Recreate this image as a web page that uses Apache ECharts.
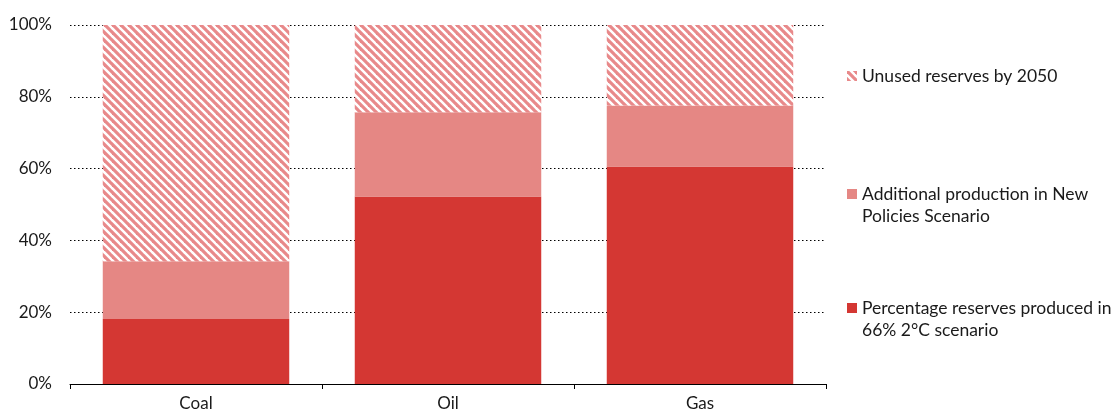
<!DOCTYPE html>
<html>
<head>
<meta charset="utf-8">
<script src="https://cdn.jsdelivr.net/npm/echarts@6/dist/echarts.min.js"></script>
<style>html,body{margin:0;padding:0;background:#fff}#c{width:1119px;height:412px}</style>
</head>
<body>
<div id="c"></div>
<script>
const categories = ['Coal', 'Oil', 'Gas'];
const producedIn2C = [18.1, 52.2, 60.6];
const additionalNPS = [16.1, 23.5, 17.0];
const unused2050 = [65.8, 24.3, 22.4];
const yTicks = [0, 20, 40, 60, 80, 100];
const seriesNames = [
  'Percentage reserves produced in 66% 2°C scenario',
  'Additional production in New Policies Scenario',
  'Unused reserves by 2050'
];
const legendLabels = {};
legendLabels[seriesNames[0]] = 'Percentage reserves produced in\n66% 2°C scenario';
legendLabels[seriesNames[1]] = 'Additional production in New\nPolicies Scenario';
legendLabels[seriesNames[2]] = 'Unused reserves by 2050';

function makeHatch() {
  const s = 8;
  const c = document.createElement('canvas');
  c.width = s; c.height = s;
  const g = c.getContext('2d');
  g.fillStyle = '#ffffff';
  g.fillRect(0, 0, s, s);
  g.strokeStyle = '#e8898a';
  g.lineWidth = 3.2;
  g.lineCap = 'square';
  for (let k = -1; k <= 1; k++) {
    g.beginPath();
    g.moveTo(k * s, 0);
    g.lineTo(k * s + s, s);
    g.stroke();
  }
  return c;
}
const hatch = { image: makeHatch(), repeat: 'repeat' };

const font = 'Lato, "Open Sans", sans-serif';
const chart = echarts.init(document.getElementById('c'), null, { renderer: 'canvas' });
function legendFor(name, top, twoLine, icon) {
  return {
    show: true,
    orient: 'vertical',
    left: 842,
    top: top,
    data: [{ name: name, icon: 'rect', itemStyle: icon }],
    itemWidth: 10,
    itemHeight: 10,
    itemGap: 4,
    selectedMode: false,
    formatter: function (n) {
      // blank first line keeps the swatch level with the first text line
      return twoLine ? '\n' + legendLabels[n] : legendLabels[n];
    },
    textStyle: { fontFamily: font, fontSize: 17.5, color: '#1a1a1a', lineHeight: 22 }
  };
}
chart.setOption({
  animation: false,
  grid: { left: 70, right: 293, top: 25, bottom: 27, containLabel: false },
  legend: [
    legendFor(seriesNames[2], 60, false, { color: hatch }),
    legendFor(seriesNames[1], 156, true, { color: '#e58784' }),
    legendFor(seriesNames[0], 270, true, { color: '#d43733' })
  ],
  xAxis: {
    type: 'category',
    data: categories,
    axisLine: { lineStyle: { color: '#000', width: 1 } },
    axisTick: { show: true, length: 5, lineStyle: { color: '#000' } },
    axisLabel: { fontFamily: font, fontSize: 17, color: '#1a1a1a', margin: 11 }
  },
  yAxis: {
    type: 'value',
    min: 0, max: 100, interval: 20,
    axisLine: { show: false },
    axisTick: { show: false },
    axisLabel: {
      fontFamily: font, fontSize: 17, color: '#1a1a1a', margin: 18,
      formatter: function (v) { return yTicks.indexOf(v) >= 0 ? v + '%' : ''; }
    },
    splitLine: { lineStyle: { color: '#000', type: [1.5, 2.5], width: 1 } }
  },
  series: [
    { name: seriesNames[0], type: 'bar', stack: 't', data: producedIn2C, barWidth: '74%', itemStyle: { color: '#d43733' } },
    { name: seriesNames[1], type: 'bar', stack: 't', data: additionalNPS, barWidth: '74%', itemStyle: { color: '#e58784' } },
    { name: seriesNames[2], type: 'bar', stack: 't', data: unused2050, barWidth: '74%', itemStyle: { color: hatch } }
  ]
});
</script>
</body>
</html>
